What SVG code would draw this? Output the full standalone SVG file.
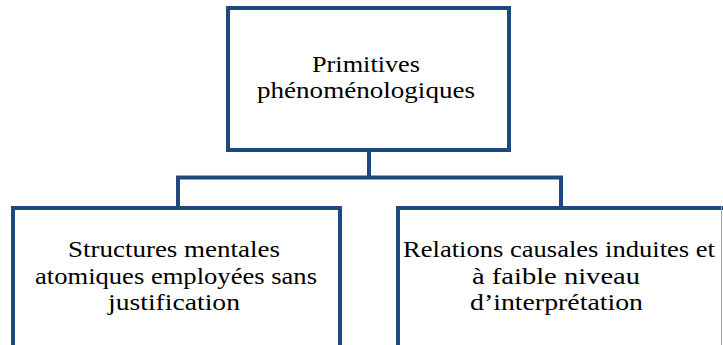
<svg xmlns="http://www.w3.org/2000/svg" width="723" height="345" viewBox="0 0 723 345">
<defs>
<style>
.box{fill:#fff;stroke:#1F497D;stroke-width:4}
.con{fill:none;stroke:#1F497D;stroke-width:4}
.t{font-size:23px;fill:#000;text-anchor:middle}
</style>
</defs>
<rect width="723" height="345" fill="#fff"/>
<g id="connectors">
<path class="con" d="M369 150 V177.5 M178 207 V177.5 H561 V207"/>
</g>
<g font-family="Liberation Serif, DejaVu Serif, serif">
<g id="node-top">
<rect class="box" x="228" y="8" width="281" height="142"/>
<text class="t" x="366" y="72" textLength="108" lengthAdjust="spacingAndGlyphs">Primitives</text>
<text class="t" x="366" y="98" textLength="218" lengthAdjust="spacingAndGlyphs">phénoménologiques</text>
</g>
<g id="node-left">
<rect class="box" x="13" y="208" width="327" height="145"/>
<text class="t" x="174" y="257" textLength="212" lengthAdjust="spacingAndGlyphs">Structures mentales</text>
<text class="t" x="176" y="284" textLength="282" lengthAdjust="spacingAndGlyphs">atomiques employées sans</text>
<text class="t" x="174" y="310" textLength="132" lengthAdjust="spacingAndGlyphs">justification</text>
</g>
<g id="node-right">
<rect class="box" x="398" y="208" width="340" height="145"/>
<line x1="721.5" y1="206" x2="721.5" y2="345" stroke="#8FA6C4" stroke-width="1"/>
<text class="t" x="559" y="257" textLength="312" lengthAdjust="spacingAndGlyphs">Relations causales induites et</text>
<text class="t" x="556" y="284" textLength="168" lengthAdjust="spacingAndGlyphs">à faible niveau</text>
<text class="t" x="556.5" y="310" textLength="173" lengthAdjust="spacingAndGlyphs">d’interprétation</text>
</g>
</g>
</svg>
